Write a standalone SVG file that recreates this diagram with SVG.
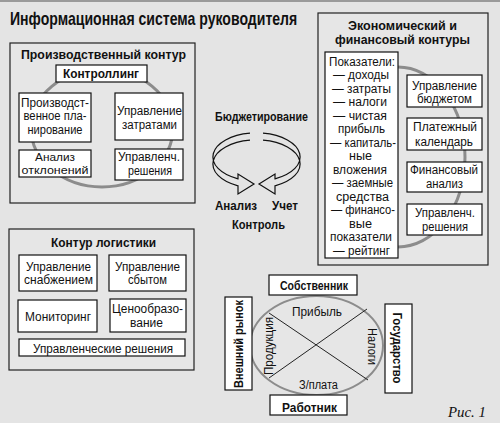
<svg xmlns="http://www.w3.org/2000/svg" width="500" height="423" viewBox="0 0 500 423">
<style>
.bg{fill:#e4e4e4}
.c{fill:#e6e6e6;stroke:#222;stroke-width:1.2}
.b{fill:#fff;stroke:#111;stroke-width:1.2}
.ring{fill:none;stroke:#8c8c8c;stroke-width:3}
.t{font-family:"Liberation Sans",Arial,sans-serif;font-size:12.5px;fill:#111;text-anchor:middle}
.h{font-weight:bold;font-size:13.5px}
.arr{fill:#e4e4e4;stroke:#111;stroke-width:1.2}
.ln{stroke:#222;stroke-width:1;fill:none}
</style>
<rect class="bg" x="0" y="0" width="500" height="423"/>
<line x1="0" y1="1" x2="500" y2="1" stroke="#9a9a9a" stroke-width="2"/>
<text class="t h" transform="translate(10,25) scale(0.75,1)" x="0" y="0" style="text-anchor:start;font-size:18px" textLength="383" lengthAdjust="spacingAndGlyphs">Информационная система руководителя</text>

<g id="production">
<rect class="c" x="10" y="43" width="185" height="160"/>
<text class="t h" x="103.5" y="58.5" textLength="165" lengthAdjust="spacingAndGlyphs">Производственный контур</text>
<ellipse class="ring" cx="102" cy="128" rx="71" ry="59"/>
<g id="controlling"><rect class="b" x="56" y="65" width="91" height="17"/>
<text class="t h" x="101" y="78" style="font-size:13px" textLength="76" lengthAdjust="spacingAndGlyphs">Контроллинг</text></g>
<g id="prod-plan"><rect class="b" x="19" y="93" width="72" height="49"/>
<text class="t" x="55" y="106.5" textLength="68" lengthAdjust="spacingAndGlyphs">Производст-</text>
<text class="t" x="55" y="120" textLength="63" lengthAdjust="spacingAndGlyphs">венное пла-</text>
<text class="t" x="55" y="133.5" textLength="55" lengthAdjust="spacingAndGlyphs">нирование</text></g>
<g id="cost-mgmt"><rect class="b" x="115" y="93" width="68" height="47"/>
<text class="t" x="149.5" y="114.5" textLength="65" lengthAdjust="spacingAndGlyphs">Управление</text>
<text class="t" x="149.5" y="128.5" textLength="55" lengthAdjust="spacingAndGlyphs">затратами</text></g>
<g id="deviation"><rect class="b" x="19" y="150" width="72" height="27"/>
<text class="t" x="55" y="161" style="font-size:11.5px" textLength="40" lengthAdjust="spacingAndGlyphs">Анализ</text>
<text class="t" x="55" y="173.5" style="font-size:11.5px" textLength="67" lengthAdjust="spacingAndGlyphs">отклонений</text></g>
<g id="prod-decisions"><rect class="b" x="115" y="149" width="68" height="31"/>
<text class="t" x="149" y="160.5" textLength="62" lengthAdjust="spacingAndGlyphs">Управленч.</text>
<text class="t" x="150" y="174.5" textLength="44" lengthAdjust="spacingAndGlyphs">решения</text></g>
</g>

<g id="economic">
<rect class="c" x="318" y="13" width="170" height="252"/>
<text class="t h" x="402.5" y="29.5" style="font-size:12.5px" textLength="109" lengthAdjust="spacingAndGlyphs">Экономический и</text>
<text class="t h" x="402.5" y="44" style="font-size:12.5px" textLength="135" lengthAdjust="spacingAndGlyphs">финансовый контуры</text>
<ellipse class="ring" cx="398" cy="157" rx="67" ry="90"/>
<g id="indicators"><rect class="b" x="325" y="52" width="73" height="206"/>
<text class="t" x="362" y="65.5" textLength="66" lengthAdjust="spacingAndGlyphs">Показатели:</text>
<text class="t" x="361" y="79" textLength="56" lengthAdjust="spacingAndGlyphs">— доходы</text>
<text class="t" x="361.5" y="92.5" textLength="59" lengthAdjust="spacingAndGlyphs">— затраты</text>
<text class="t" x="360" y="106" textLength="54" lengthAdjust="spacingAndGlyphs">— налоги</text>
<text class="t" x="360" y="119.5" textLength="54" lengthAdjust="spacingAndGlyphs">— чистая</text>
<text class="t" x="361.5" y="133" textLength="47" lengthAdjust="spacingAndGlyphs">прибыль</text>
<text class="t" x="363" y="146.5" textLength="66" lengthAdjust="spacingAndGlyphs">— капиталь-</text>
<text class="t" x="360.5" y="160" textLength="23" lengthAdjust="spacingAndGlyphs">ные</text>
<text class="t" x="360" y="173.5" textLength="54" lengthAdjust="spacingAndGlyphs">вложения</text>
<text class="t" x="362.5" y="187" textLength="61" lengthAdjust="spacingAndGlyphs">— заемные</text>
<text class="t" x="362.5" y="200.5" textLength="53" lengthAdjust="spacingAndGlyphs">средства</text>
<text class="t" x="363" y="214" textLength="64" lengthAdjust="spacingAndGlyphs">— финансо-</text>
<text class="t" x="360.5" y="227.5" textLength="23" lengthAdjust="spacingAndGlyphs">вые</text>
<text class="t" x="361" y="241" textLength="62" lengthAdjust="spacingAndGlyphs">показатели</text>
<text class="t" x="361.5" y="254.5" textLength="57" lengthAdjust="spacingAndGlyphs">— рейтинг</text></g>
<g id="budget-mgmt"><rect class="b" x="407" y="75" width="75" height="32"/>
<text class="t" x="444.5" y="89.5" textLength="65" lengthAdjust="spacingAndGlyphs">Управление</text>
<text class="t" x="444.5" y="102.5" textLength="55" lengthAdjust="spacingAndGlyphs">бюджетом</text></g>
<g id="payment-calendar"><rect class="b" x="407" y="118" width="75" height="32"/>
<text class="t" x="445" y="130.5" textLength="64" lengthAdjust="spacingAndGlyphs">Платежный</text>
<text class="t" x="444" y="145.5" textLength="58" lengthAdjust="spacingAndGlyphs">календарь</text></g>
<g id="fin-analysis"><rect class="b" x="407" y="162" width="75" height="30"/>
<text class="t" x="444" y="173.5" textLength="68" lengthAdjust="spacingAndGlyphs">Финансовый</text>
<text class="t" x="444.5" y="187.5" textLength="37" lengthAdjust="spacingAndGlyphs">анализ</text></g>
<g id="econ-decisions"><rect class="b" x="407" y="204" width="75" height="31"/>
<text class="t" x="445" y="217" textLength="60" lengthAdjust="spacingAndGlyphs">Управленч.</text>
<text class="t" x="445" y="231" textLength="46" lengthAdjust="spacingAndGlyphs">решения</text></g>
</g>

<g id="budgeting">
<text class="t h" x="261.5" y="121" style="font-size:13px" textLength="93" lengthAdjust="spacingAndGlyphs">Бюджетирование</text>
<path class="arr" d="M250,133.2 A43,24 0 0 0 238,178.8 L238,174 L254,184 L238,194 L238,185.8 A43,24 0 0 1 250,140.2"/>
<path class="arr" d="M263,133.2 A43,24 0 0 1 275,178.8 L275,174 L259,184 L275,194 L275,185.8 A43,24 0 0 0 263,140.2"/>
<text class="t h" x="236" y="210" style="font-size:13px" textLength="42" lengthAdjust="spacingAndGlyphs">Анализ</text>
<text class="t h" x="285" y="210" style="font-size:13px" textLength="26" lengthAdjust="spacingAndGlyphs">Учет</text>
<text class="t h" x="258.5" y="229" style="font-size:13px" textLength="53" lengthAdjust="spacingAndGlyphs">Контроль</text>
</g>

<g id="logistics">
<rect class="c" x="9" y="229" width="185" height="141"/>
<text class="t h" x="103.5" y="247" style="font-size:13px" textLength="105" lengthAdjust="spacingAndGlyphs">Контур логистики</text>
<g id="supply"><rect class="b" x="19" y="255" width="78" height="36"/>
<text class="t" x="58.5" y="270.5" textLength="65" lengthAdjust="spacingAndGlyphs">Управление</text>
<text class="t" x="58.5" y="283.5" textLength="69" lengthAdjust="spacingAndGlyphs">снабжением</text></g>
<g id="sales"><rect class="b" x="109" y="255" width="77" height="36"/>
<text class="t" x="147.5" y="270.5" textLength="65" lengthAdjust="spacingAndGlyphs">Управление</text>
<text class="t" x="147.5" y="283.5" textLength="39" lengthAdjust="spacingAndGlyphs">сбытом</text></g>
<g id="monitoring"><rect class="b" x="18" y="300" width="79" height="32"/>
<text class="t" x="58" y="320.5" textLength="66" lengthAdjust="spacingAndGlyphs">Мониторинг</text></g>
<g id="pricing"><rect class="b" x="110" y="299" width="76" height="33"/>
<text class="t" x="147.5" y="312.5" textLength="71" lengthAdjust="spacingAndGlyphs">Ценообразо-</text>
<text class="t" x="146.5" y="326.5" textLength="33" lengthAdjust="spacingAndGlyphs">вание</text></g>
<g id="log-decisions"><rect class="b" x="19" y="339" width="166" height="17"/>
<text class="t" x="103" y="352.5" textLength="140" lengthAdjust="spacingAndGlyphs">Управленческие решения</text></g>
</g>

<g id="relations">
<ellipse cx="316.5" cy="345.5" rx="66.5" ry="49.5" fill="#e6e6e6" stroke="#8c8c8c" stroke-width="2"/>
<g id="connectors">
<line class="ln" x1="269" y1="313" x2="368" y2="380"/>
<line class="ln" x1="367" y1="309" x2="269" y2="378"/>
</g>
<text class="t" x="317" y="315.5" textLength="50" lengthAdjust="spacingAndGlyphs">Прибыль</text>
<text class="t" x="318.5" y="388.5" textLength="39" lengthAdjust="spacingAndGlyphs">З/плата</text>
<text class="t" transform="translate(272.5,346) rotate(-90)" x="0" y="0" textLength="58" lengthAdjust="spacingAndGlyphs">Продукция</text>
<text class="t" transform="translate(367.5,346.5) rotate(90)" x="0" y="0" textLength="37" lengthAdjust="spacingAndGlyphs">Налоги</text>
<g id="owner"><rect class="b" x="269" y="275" width="88" height="20"/>
<text class="t h" x="314" y="289.5" style="font-size:13px" textLength="68" lengthAdjust="spacingAndGlyphs">Собственник</text></g>
<g id="market"><rect class="b" x="225" y="297" width="27" height="93"/>
<text class="t h" transform="translate(243,344) rotate(-90)" x="0" y="0" style="font-size:13px" textLength="88" lengthAdjust="spacingAndGlyphs">Внешний рынок</text></g>
<g id="state"><rect class="b" x="385" y="304" width="27" height="89"/>
<text class="t h" transform="translate(393,348) rotate(90)" x="0" y="0" style="font-size:13px" textLength="71" lengthAdjust="spacingAndGlyphs">Государство</text></g>
<g id="worker"><rect class="b" x="270" y="395" width="77" height="20"/>
<text class="t h" x="309.5" y="411.5" style="font-size:13px" textLength="55" lengthAdjust="spacingAndGlyphs">Работник</text></g>
</g>
<text x="467" y="417" style="font-family:'Liberation Serif','Times New Roman',serif;font-style:italic;font-size:15px;fill:#111;text-anchor:middle" textLength="38" lengthAdjust="spacingAndGlyphs">Рис. 1</text>
</svg>
